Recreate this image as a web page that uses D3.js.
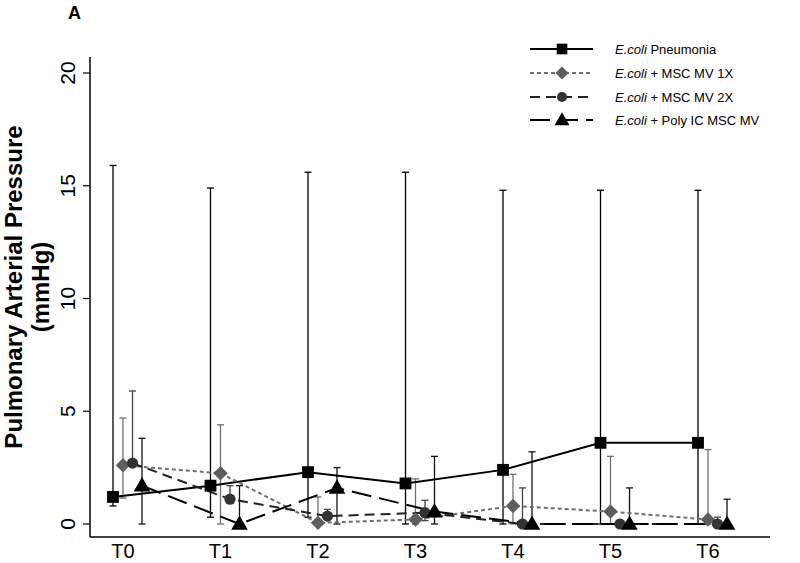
<!DOCTYPE html>
<html>
<head>
<meta charset="utf-8">
<script src="https://cdn.jsdelivr.net/npm/d3@7"></script>
<style>
  html, body { margin: 0; padding: 0; background: #fff; }
  svg { display: block; font-family: Arial, "Liberation Sans", sans-serif; }
</style>
</head>
<body>
<svg id="chart" width="800" height="563"></svg>
<script>
// ---- data ----
const categories = ["T0", "T1", "T2", "T3", "T4", "T5", "T6"];
const yTicks = [0, 5, 10, 15, 20];

const pneumoniaMean = [1.2, 1.7, 2.3, 1.8, 2.4, 3.6, 3.6];
const pneumoniaHi   = [15.9, 14.9, 15.6, 15.6, 14.8, 14.8, 14.8];
const pneumoniaLo   = [0.8, 0.3, 0.3, 0.0, 0.0, 0.0, 0.0];

const mv1xMean = [2.6, 2.25, 0.05, 0.2, 0.8, 0.55, 0.2];
const mv1xHi   = [4.7, 4.4, 1.2, 2.0, 2.2, 3.0, 3.3];
const mv1xLo   = [1.15, 0.0, 0.0, 0.0, 0.0, 0.0, 0.0];

const mv2xMean = [2.7, 1.1, 0.35, 0.5, 0.0, 0.0, 0.0];
const mv2xHi   = [5.9, 1.7, 0.65, 1.05, 1.6, 0.0, 0.3];
const mv2xLo   = [2.7, 1.1, 0.2, 0.15, 0.0, 0.0, 0.0];

const polyMean = [1.7, 0.0, 1.6, 0.55, 0.0, 0.0, 0.0];
const polyHi   = [3.8, 1.7, 2.5, 3.0, 3.2, 1.6, 1.1];
const polyLo   = [0.0, 0.0, 0.0, 0.0, 0.0, 0.0, 0.0];

const seriesNames = ["Pneumonia", "+ MSC MV 1X", "+ MSC MV 2X", "+ Poly IC MSC MV"];

// ---- styling ----
const series = [
  { name: seriesNames[0], mean: pneumoniaMean, hi: pneumoniaHi, lo: pneumoniaLo,
    off: -10, shape: "square", fill: "#000", line: "#000", dash: null, err: "#000" },
  { name: seriesNames[1], mean: mv1xMean, hi: mv1xHi, lo: mv1xLo,
    off: 0, shape: "diamond", fill: "#5e5e5e", line: "#6e6e6e", dash: "4,3", err: "#707070" },
  { name: seriesNames[2], mean: mv2xMean, hi: mv2xHi, lo: mv2xLo,
    off: 9.5, shape: "circle", fill: "#333", line: "#222", dash: "10,6", err: "#444" },
  { name: seriesNames[3], mean: polyMean, hi: polyHi, lo: polyLo,
    off: 19, shape: "triangle", fill: "#000", line: "#000", dash: "20,8", err: "#111" }
];

const svg = d3.select("#chart");

const x = d3.scalePoint().domain(categories).range([123, 708]);
const y = d3.scaleLinear().domain([0, 20]).range([524, 73]);

const axisLeftX = 90, axisBottomY = 537;

// axes lines
svg.append("line").attr("x1", axisLeftX).attr("x2", axisLeftX)
  .attr("y1", 57).attr("y2", axisBottomY).attr("stroke", "#000").attr("stroke-width", 1.5);
svg.append("line").attr("x1", axisLeftX).attr("x2", 770)
  .attr("y1", axisBottomY).attr("y2", axisBottomY).attr("stroke", "#000").attr("stroke-width", 1.5);

// y ticks
const yAxisG = svg.append("g");
yTicks.forEach(t => {
  yAxisG.append("line").attr("x1", axisLeftX - 7).attr("x2", axisLeftX)
    .attr("y1", y(t)).attr("y2", y(t)).attr("stroke", "#000").attr("stroke-width", 1.2);
  yAxisG.append("text")
    .attr("transform", `translate(${75},${y(t)}) rotate(-90)`)
    .attr("text-anchor", "middle")
    .attr("font-size", 21)
    .attr("fill", "#000")
    .text(t);
});

// x labels
categories.forEach(c => {
  svg.append("text").attr("x", x(c)).attr("y", 558)
    .attr("text-anchor", "middle").attr("font-size", 20).attr("fill", "#000").text(c);
});

// y label
svg.append("text")
  .attr("transform", `translate(22,287) rotate(-90)`)
  .attr("text-anchor", "middle").attr("font-size", 24).attr("font-weight", "bold")
  .text("Pulmonary Arterial Pressure");
svg.append("text")
  .attr("transform", `translate(49,287) rotate(-90)`)
  .attr("text-anchor", "middle").attr("font-size", 24).attr("font-weight", "bold")
  .text("(mmHg)");

// panel letter
svg.append("text").attr("x", 68).attr("y", 19).attr("font-size", 18)
  .attr("font-weight", "bold").text("A");

function drawSymbol(g, shape, cx, cy, fill, scale) {
  const s = scale || 1;
  if (shape === "square") {
    g.append("path").attr("d", d3.symbol().type(d3.symbolSquare).size(140 * s * s)())
      .attr("transform", `translate(${cx},${cy})`).attr("fill", fill);
  } else if (shape === "diamond") {
    g.append("path").attr("d", d3.symbol().type(d3.symbolSquare).size(105 * s * s)())
      .attr("transform", `translate(${cx},${cy}) rotate(45)`).attr("fill", fill);
  } else if (shape === "circle") {
    g.append("circle").attr("cx", cx).attr("cy", cy).attr("r", 5.6 * s).attr("fill", fill);
  } else {
    g.append("path").attr("d", d3.symbol().type(d3.symbolTriangle).size(120 * s * s)())
      .attr("transform", `translate(${cx},${cy + 1})`).attr("fill", fill);
  }
}

const capW = 3.5;
// error bars
series.forEach(s => {
  const g = svg.append("g");
  categories.forEach((c, i) => {
    const cx = x(c) + s.off;
    g.append("line").attr("x1", cx).attr("x2", cx)
      .attr("y1", y(s.hi[i])).attr("y2", y(s.lo[i]))
      .attr("stroke", s.err).attr("stroke-width", 1.3);
    [s.hi[i], s.lo[i]].forEach(v => {
      g.append("line").attr("x1", cx - capW).attr("x2", cx + capW)
        .attr("y1", y(v)).attr("y2", y(v)).attr("stroke", s.err).attr("stroke-width", 1.3);
    });
  });
});

// lines
const lineGen = d3.line();
series.forEach(s => {
  const pts = categories.map((c, i) => [x(c) + s.off, y(s.mean[i])]);
  svg.append("path").attr("d", lineGen(pts)).attr("fill", "none")
    .attr("stroke", s.line).attr("stroke-width", 2)
    .attr("stroke-dasharray", s.dash);
});

// markers
series.forEach(s => {
  const g = svg.append("g");
  categories.forEach((c, i) => {
    drawSymbol(g, s.shape, x(c) + s.off, y(s.mean[i]), s.fill);
  });
});

// legend
const legendY = [49, 73, 97, 120];
series.forEach((s, i) => {
  const g = svg.append("g");
  const ly = legendY[i];
  g.append("line").attr("x1", 530).attr("x2", 593).attr("y1", ly).attr("y2", ly)
    .attr("stroke", s.line).attr("stroke-width", 2).attr("stroke-dasharray", s.dash);
  drawSymbol(g, s.shape, 562, ly, s.fill, 0.9);
  const t = g.append("text").attr("x", 615).attr("y", ly + 5).attr("font-size", 13).attr("fill", "#000");
  t.append("tspan").attr("font-style", "italic").text("E.coli");
  t.append("tspan").text(" " + s.name);
});
</script>
</body>
</html>
